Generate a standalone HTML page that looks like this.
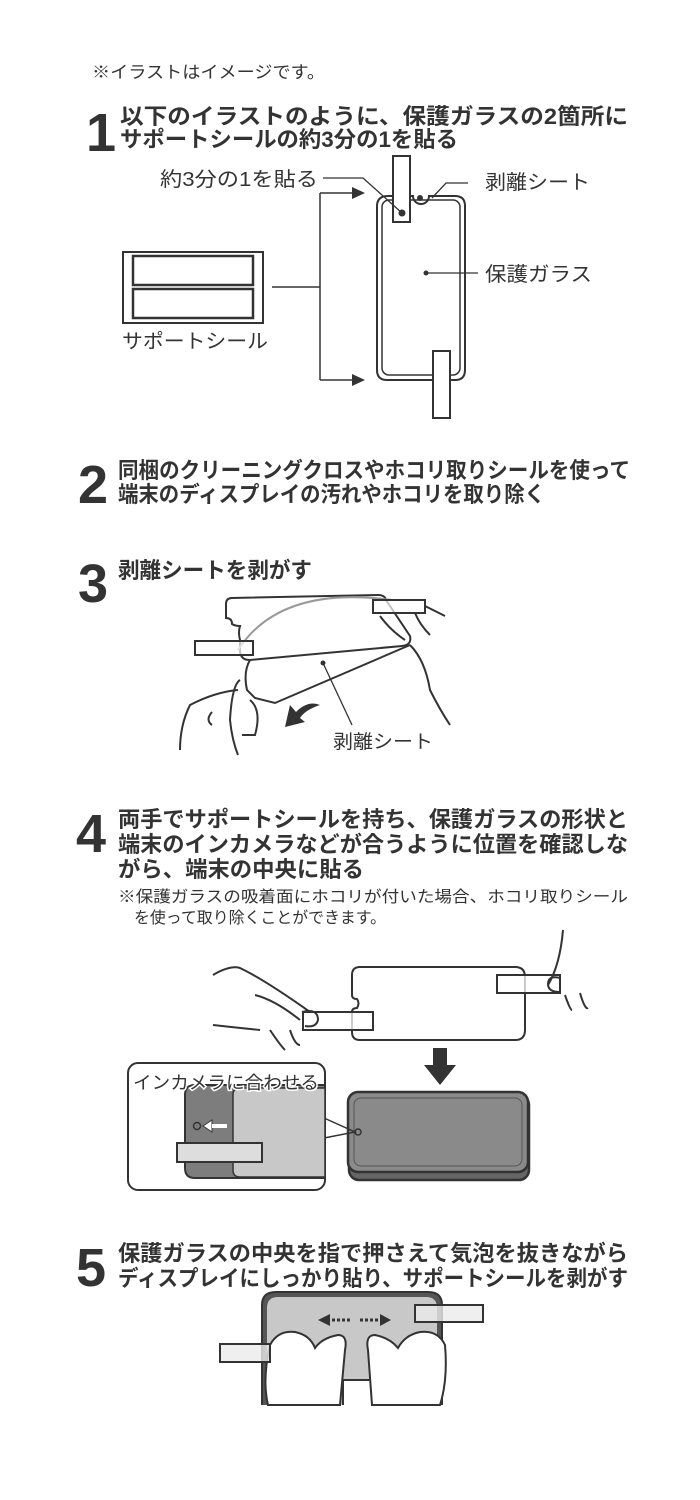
<!DOCTYPE html>
<html><head><meta charset="utf-8"><style>
html,body{margin:0;padding:0;background:#fff;}
svg{display:block;}
text{font-family:"Liberation Sans","Noto Sans CJK JP",sans-serif;fill:#333;}
.h{font-size:22px;font-weight:bold;}
.n{font-size:54px;font-weight:bold;}
.l{font-size:20px;}
</style></head><body>
<svg width="700" height="1500" viewBox="0 0 700 1500" xmlns="http://www.w3.org/2000/svg">
<text x="92" y="78" style="font-size:17px" textLength="233" lengthAdjust="spacingAndGlyphs">※イラストはイメージです。</text>

<!-- step 1 -->
<text x="86" y="151" class="n">1</text>
<text x="120" y="124" class="h" textLength="508" lengthAdjust="spacingAndGlyphs">以下のイラストのように、保護ガラスの2箇所に</text>
<text x="120" y="147" class="h" textLength="338" lengthAdjust="spacingAndGlyphs">サポートシールの約3分の1を貼る</text>
<g fill="none" stroke="#333" stroke-width="2">
<rect x="123" y="252" width="140" height="71"/>
<rect x="133" y="256" width="120" height="29" stroke-width="2.5"/>
<rect x="133" y="289" width="120" height="29" stroke-width="2.5"/>
<path d="M272 287H320M320 193V380M320 193H352M320 380H352" stroke-width="1.5"/>
<path d="M388 196 H413 A8 8 0 0 0 429 196 H455 Q465 196 465 206 V370 Q465 380 455 380 H387 Q377 380 377 370 V206 Q377 196 388 196Z" stroke-width="2"/>
<rect x="382" y="200" width="78" height="175" rx="7" stroke-width="1.5"/>
<rect x="393" y="156" width="17" height="66" fill="#fff"/>
<rect x="433" y="351" width="17" height="67" fill="#fff"/>
<path d="M323 178H363L402 213M432 198L446 183H468M426 273H478" stroke-width="1.3"/>
</g>
<path d="M352 187L365 193L352 199Z M352 374L365 380L352 386Z" fill="#333"/>
<circle cx="402" cy="213" r="3.5" fill="#333"/><circle cx="420" cy="198" r="3" fill="#333"/><circle cx="426" cy="273" r="2.5" fill="#333"/>
<text x="160" y="186" class="l" textLength="158" lengthAdjust="spacingAndGlyphs">約3分の1を貼る</text>
<text x="485" y="189" class="l" textLength="105" lengthAdjust="spacingAndGlyphs">剥離シート</text>
<text x="485" y="281" class="l" textLength="107" lengthAdjust="spacingAndGlyphs">保護ガラス</text>
<text x="122" y="348" class="l" textLength="146" lengthAdjust="spacingAndGlyphs">サポートシール</text>

<!-- step 2 -->
<text x="78" y="503" class="n">2</text>
<text x="118" y="478" class="h" textLength="512" lengthAdjust="spacingAndGlyphs">同梱のクリーニングクロスやホコリ取りシールを使って</text>
<text x="118" y="502" class="h" textLength="427" lengthAdjust="spacingAndGlyphs">端末のディスプレイの汚れやホコリを取り除く</text>

<!-- step 3 -->
<text x="78" y="602" class="n">3</text>
<text x="118" y="578" class="h" textLength="194" lengthAdjust="spacingAndGlyphs">剥離シートを剥がす</text>
<g fill="none" stroke="#333" stroke-width="2">
<path d="M232 598 Q226 598 226 604 V618 Q232 618 232 624 Q235 626 240 626 Q238 632 240 640 V650 Q240 660 250 660 L402 646 Q412 645 410 636 L386 600 Q385 595 378 595 Z"/>
<path d="M250 660 Q243 672 247 690 L255 698 L275 703 L410 645" />
<path d="M238 650 Q280 585 392 600" stroke="#999"/>
<rect x="195" y="641" width="58" height="14" fill="rgba(255,255,255,0.7)"/>
<rect x="373" y="600" width="52" height="13" fill="rgba(255,255,255,0.7)"/>
<path d="M425 606L445 616M380 616Q390 630 405 640M415 613Q420 625 430 635M410 645Q425 660 430 690Q440 710 450 725"/>
<path d="M240 680 Q232 685 230 720 Q232 740 238 755M238 690 Q215 692 190 705 Q180 725 180 750M212 712 Q205 720 212 725M250 700 Q262 710 255 735 L242 735"/>
<path d="M323 663L352 725" stroke-width="1.3"/>
</g>
<circle cx="323" cy="663" r="2.5" fill="#333"/>
<path d="M285 727 L290 705 L296 712 Q308 700 320 705 Q305 710 300 718 L305 722Z" fill="#333"/>
<text x="333" y="748" style="font-size:19px" textLength="100" lengthAdjust="spacingAndGlyphs">剥離シート</text>

<!-- step 4 -->
<text x="76" y="852" class="n">4</text>
<text x="118" y="827" class="h" textLength="510" lengthAdjust="spacingAndGlyphs">両手でサポートシールを持ち、保護ガラスの形状と</text>
<text x="118" y="852" class="h" textLength="510" lengthAdjust="spacingAndGlyphs">端末のインカメラなどが合うように位置を確認しな</text>
<text x="118" y="877" class="h" textLength="246" lengthAdjust="spacingAndGlyphs">がら、端末の中央に貼る</text>
<text x="118" y="902" style="font-size:16px" textLength="510" lengthAdjust="spacingAndGlyphs">※保護ガラスの吸着面にホコリが付いた場合、ホコリ取りシール</text>
<text x="134" y="923" style="font-size:16px" textLength="252" lengthAdjust="spacingAndGlyphs">を使って取り除くことができます。</text>
<g fill="none" stroke="#333" stroke-width="2">
<path d="M360 967 H515 Q525 967 525 977 V1030 Q525 1040 515 1040 H360 Q352 1040 352 1032 V1012 Q352 1008 357 1008 Q360 1003 357 999 Q352 999 352 995 V975 Q352 967 360 967Z"/>
<rect x="303" y="1012" width="70" height="18" fill="rgba(255,255,255,0.75)"/>
<rect x="497" y="975" width="63" height="18" fill="rgba(255,255,255,0.75)"/>
<path d="M213 975 Q230 965 240 968 Q265 980 310 1012M255 995 Q275 1000 300 1020M213 1025 Q240 1028 260 1030M270 1030 Q280 1045 285 1050 M290 1030 Q295 1045 300 1045M563 930 Q560 965 548 985 M565 995 Q570 1010 572 1010 M580 993 Q585 1010 588 1008"/>
<path d="M302 1012 Q318 1008 318 1020 Q316 1028 305 1026"/>
<path d="M560 978 Q548 975 548 984 Q548 992 560 992"/>
</g>
<path d="M433 1048H447V1065H456L440 1085L424 1065H433Z" fill="#333"/>
<rect x="349" y="1095" width="180" height="85" rx="10" fill="#666" stroke="#333" stroke-width="2.5"/>
<rect x="348" y="1092" width="180" height="80" rx="10" fill="#8a8a8a" stroke="#333" stroke-width="2.5"/>
<rect x="354" y="1098" width="168" height="68" rx="7" fill="none" stroke="#555" stroke-width="1"/>
<circle cx="358" cy="1132" r="3" fill="none" stroke="#333" stroke-width="1.5"/>
<path d="M324 1118L355 1132L324 1138" fill="none" stroke="#333" stroke-width="1.5"/>
<rect x="128" y="1063" width="197" height="127" rx="10" fill="#fff" stroke="#333" stroke-width="2"/>
<path d="M325 1085 H195 Q185 1085 185 1095 V1168 Q185 1178 195 1178 H325Z" fill="#7d7d7d" stroke="#333" stroke-width="2"/>
<path d="M325 1088 H240 Q233 1088 233 1095 V1170 Q233 1177 240 1177 H325Z" fill="#c8c8c8" stroke="#333" stroke-width="1.5"/>
<circle cx="197" cy="1126" r="3.5" fill="none" stroke="#333" stroke-width="1.5"/>
<path d="M203 1126L212 1120V1132Z" fill="#fff" stroke="#333"/>
<rect x="212" y="1124" width="15" height="4" fill="#fff"/>
<rect x="177" y="1143" width="85" height="19" fill="#ddd" stroke="#333" stroke-width="2"/>
<text x="133" y="1089" style="font-size:18px;fill:#333;stroke:#fff;stroke-width:3;paint-order:stroke" textLength="186" lengthAdjust="spacingAndGlyphs">インカメラに合わせる</text>

<!-- step 5 -->
<text x="76" y="1286" class="n">5</text>
<text x="118" y="1261" class="h" textLength="510" lengthAdjust="spacingAndGlyphs">保護ガラスの中央を指で押さえて気泡を抜きながら</text>
<text x="118" y="1286" class="h" textLength="510" lengthAdjust="spacingAndGlyphs">ディスプレイにしっかり貼り、サポートシールを剥がす</text>
<path d="M262 1405 V1305 Q262 1292 276 1292 H428 Q442 1292 442 1305 V1405" fill="#555" stroke="#333" stroke-width="2"/>
<path d="M267 1405 V1308 Q267 1297 278 1297 H426 Q437 1297 437 1308 V1405Z" fill="#c8c8c8"/>
<path d="M343 1405 V1380 H375 V1405" fill="#fff" stroke="#333" stroke-width="2"/>
<path d="M318 1320L330 1314V1326Z M391 1320L380 1314V1326Z" fill="#333"/>
<path d="M332 1320H350M360 1320H378" stroke="#333" stroke-width="3" stroke-dasharray="3 2"/>
<g fill="#fff" stroke="#333" stroke-width="2">
<path d="M268 1405 Q262 1380 270 1345 Q278 1330 295 1332 Q310 1335 315 1348 Q322 1338 338 1335 Q348 1335 345 1350 L340 1405Z"/>
<path d="M440 1405 Q448 1380 445 1345 Q438 1330 420 1332 Q405 1335 398 1348 Q390 1338 375 1335 Q365 1335 368 1350 L372 1405Z"/>
</g>
<rect x="415" y="1305" width="68" height="17" fill="rgba(235,235,235,0.8)" stroke="#333" stroke-width="2"/>
<rect x="220" y="1344" width="50" height="18" fill="rgba(235,235,235,0.8)" stroke="#333" stroke-width="2"/>
</svg>
</body></html>
